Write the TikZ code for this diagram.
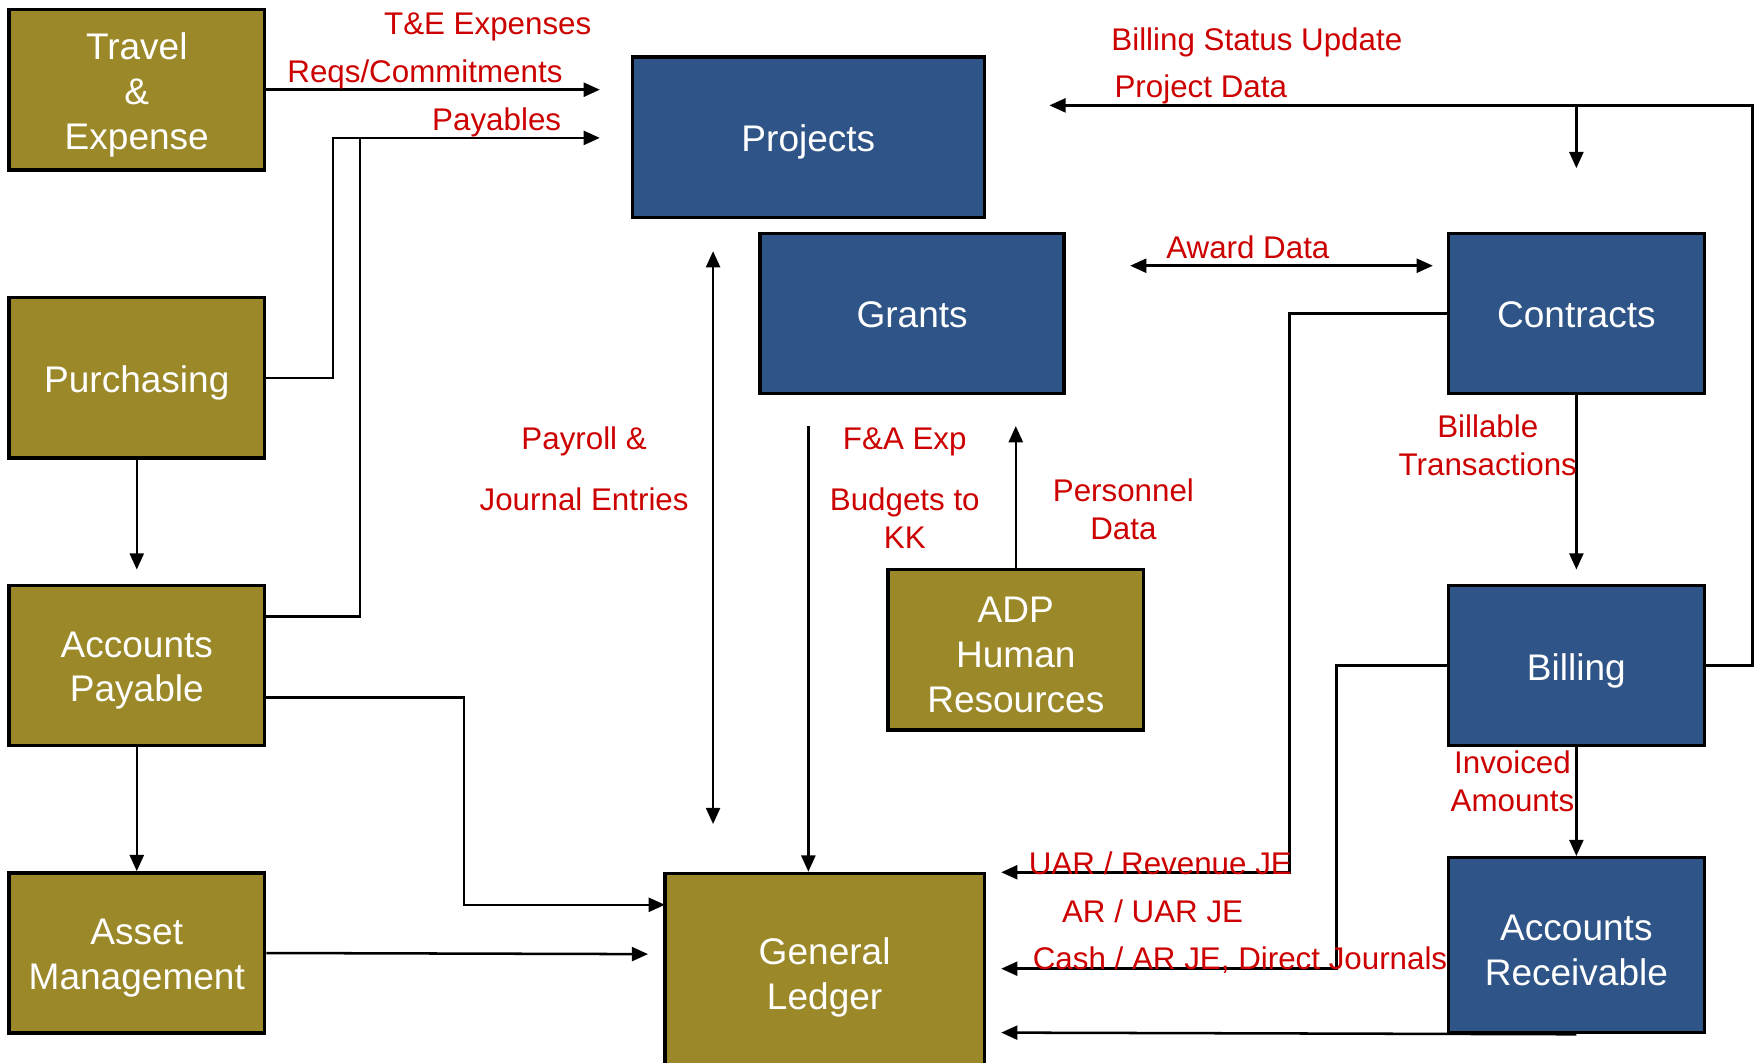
\documentclass[tikz,border=0pt]{standalone}
\usepackage{fontspec}
\setmainfont{Liberation Sans}
\usepackage{tikz}
\usetikzlibrary{arrows.meta}
\definecolor{goldfill}{RGB}{155,136,41}
\definecolor{navyfill}{RGB}{47,84,135}
\definecolor{flowred}{RGB}{204,0,0}

\begin{document}
\begin{tikzpicture}[x=0.2mm, y=-0.2mm, >={Triangle[length=2.9mm,width=2.5mm]},
	sysbox/.style={draw=black, line width=0.6mm, inner sep=0pt},
	unitgold/.style={sysbox, fill=goldfill},
	unitblue/.style={sysbox, fill=navyfill},
	boxtext/.style={text=white, align=center, inner sep=0pt, yshift=-0.9mm, font=\fontsize{18.8}{22.7}\selectfont},
	flow/.style={line width=0.45mm},
	lbl/.style={text=flowred, align=center, inner sep=0pt, yshift=-0.4mm, font=\fontsize{15.9}{19.3}\selectfont}]
		\def\bw{45.6mm}
		\def\bh{28.6mm}
		\useasboundingbox (0,0) rectangle (1568,948);
		% gold systems
		\node[unitgold, minimum width=\bw, minimum height=\bh] (te) at (122,80) {};
		\node[unitgold, minimum width=\bw, minimum height=\bh] (pur) at (122,337) {};
		\node[unitgold, minimum width=\bw, minimum height=\bh] (ap) at (122,593.5) {};
		\node[unitgold, minimum width=\bw, minimum height=\bh] (am) at (122,850) {};
		\node[unitgold, minimum width=\bw, minimum height=\bh] (adp) at (906,579.5) {};
		\node[unitgold, minimum width=57mm, minimum height=35.2mm] (gl) at (735.5,867) {};
		% blue systems
		\node[unitblue, minimum width=62.8mm, minimum height=\bh] (proj) at (721,122.5) {};
		\node[unitblue, minimum width=54.2mm, minimum height=\bh] (grants) at (813.5,279.5) {};
		\node[unitblue, minimum width=\bw, minimum height=\bh] (contr) at (1406,279.5) {};
		\node[unitblue, minimum width=\bw, minimum height=\bh] (bill) at (1406,593.5) {};
		\node[unitblue, minimum width=\bw, minimum height=31.2mm] (ar) at (1406,843) {};
		% system names
		\node[boxtext] (teName) at (te) {Travel\\\&\\Expense};
		\node[boxtext] (purName) at (pur) {Purchasing};
		\node[boxtext] (apName) at (ap) {Accounts\\Payable};
		\node[boxtext] (amName) at (am) {Asset\\Management};
		\node[boxtext] (adpName) at (adp) {ADP\\Human\\Resources};
		\node[boxtext] (glName) at (gl) {General\\Ledger};
		\node[boxtext] (projName) at (proj) {Projects};
		\node[boxtext, yshift=0.7mm] (grantsName) at (grants) {Grants};
		\node[boxtext, yshift=0.7mm] (contrName) at (contr) {Contracts};
		\node[boxtext] (billName) at (bill) {Billing};
		\node[boxtext] (arName) at (ar) {Accounts\\Receivable};
		
		% free ends and bends
		\coordinate (reqEnd) at (535,80);
		\coordinate (payEnd) at (535,123);
		\coordinate (purUp) at (297,123);
		\coordinate (apUp) at (321,550);
		\coordinate (apIn) at (122,508);
		\coordinate (apBend) at (414,622);
		\coordinate (glA) at (593,807);
		\coordinate (amEnd) at (578,851);
		\coordinate (pjTop) at (636,224);
		\coordinate (pjBot) at (636,735);
		\coordinate (fa) at (721,380);
		\coordinate (pdEnd) at (906,380);
		\coordinate (awL) at (1008,237);
		\coordinate (awR) at (1278,237);
		\coordinate (bsTop) at (1563,94);
		\coordinate (bsEnd) at (936,94);
		\coordinate (bsDown) at (1406,150);
		\coordinate (billIn) at (1406,508);
		\coordinate (uarCorner) at (1150,778);
		\coordinate (uarEnd) at (893,778);
		\coordinate (cashCorner) at (1192,864);
		\coordinate (cashEnd) at (893,864);
		\coordinate (arEnd) at (893,921);
		
		% left side feeds
		\draw[flow,->] (te.east) -- (reqEnd);
		\draw[flow,->] (pur.east) -| (purUp) -- (payEnd);
		\draw[flow] (ap.east |- apUp) -- (apUp) -- (apUp |- payEnd);
		\draw[flow,->] (pur.south) -- (apIn);
		\draw[flow,->] (ap.south) -- (am.north);
		\draw[flow,->] (ap.east |- apBend) -- (apBend) |- (glA);
		\draw[flow,->] (am.east) -- (amEnd);
		% middle
		\draw[flow,<->] (pjTop) -- (pjBot);
		\draw[flow,->] (fa) -- (fa |- gl.north);
		\draw[flow,->] (adp.north) -- (pdEnd);
		\draw[flow,<->] (awL) -- (awR);
		% right side
		\draw[flow,->] (bill.east) -| (bsTop) -- (bsEnd);
		\draw[flow,->] (bsTop -| bsDown) -- (bsDown);
		\draw[flow,->] (contr.south) -- (billIn);
		\draw[flow,->] (contr.west) -| (uarCorner) -- (uarEnd);
		\draw[flow,->] (bill.west) -| (cashCorner) -- (cashEnd);
		\draw[flow,->] (bill.south) -- (ar.north);
		\draw[flow,->] (ar.south) -- (arEnd);
		
		% data labels
		\node[lbl] (teLbl) at (435,22) {T\&E Expenses};
		\node[lbl] (reqLbl) at (379,64) {Reqs/Commitments};
		\node[lbl] (payLbl) at (443,107) {Payables};
		\node[lbl] (bsLbl) at (1121,36) {Billing Status Update};
		\node[lbl] (pdLbl) at (1071,78) {Project Data};
		\node[lbl] (awLbl) at (1113,219) {Award Data};
		\node[lbl] (prLbl) at (521,392) {Payroll \&};
		\node[lbl] (jeLbl) at (521,443) {Journal Entries};
		\node[lbl] (faLbl) at (807,392) {F\&A Exp};
		\node[lbl] (kkLbl) at (807,460) {Budgets to\\KK};
		\node[lbl] (persLbl) at (1002,452) {Personnel\\Data};
		\node[lbl] (btLbl) at (1327,395) {Billable\\Transactions};
		\node[lbl] (invLbl) at (1349,695) {Invoiced\\Amounts};
		\node[lbl] (uarLbl) at (1035,768) {UAR / Revenue JE};
		\node[lbl] (aruLbl) at (1028,811) {AR / UAR JE};
		\node[lbl] (cashLbl) at (1106,854) {Cash / AR JE, Direct Journals};
\end{tikzpicture}
\end{document}
